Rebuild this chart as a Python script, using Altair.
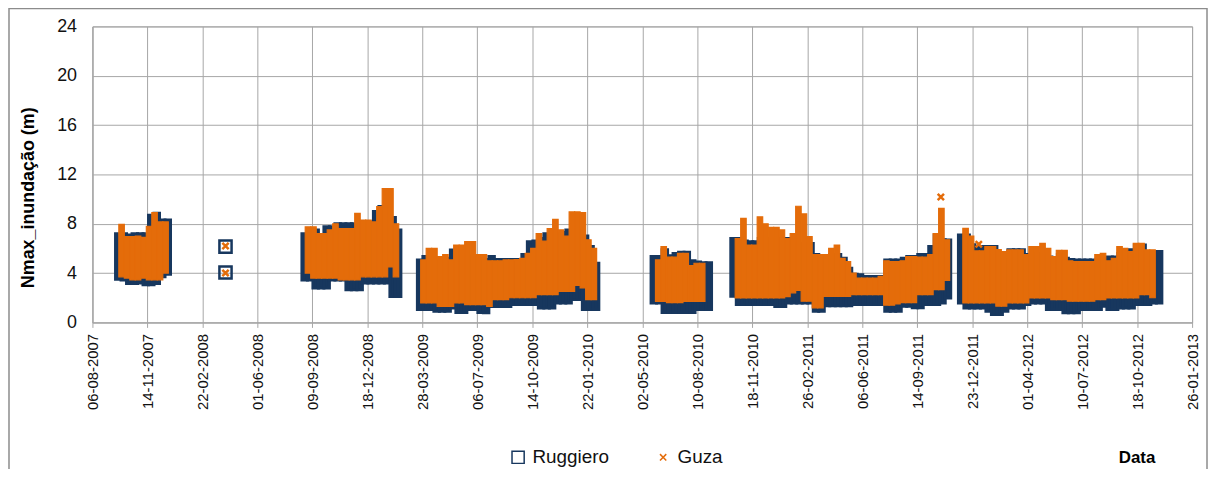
import altair as alt
import pandas as pd

# ---------------- data ----------------
TICK_DATES = ["2007-08-06", "2007-11-14", "2008-02-22", "2008-06-01", "2008-09-09",
              "2008-12-18", "2009-03-28", "2009-07-06", "2009-10-14", "2010-01-22",
              "2010-05-02", "2010-08-10", "2010-11-18", "2011-02-26", "2011-06-06",
              "2011-09-14", "2011-12-23", "2012-04-01", "2012-07-10", "2012-10-18",
              "2013-01-26"]
Y_TICKS = [0, 4, 8, 12, 16, 20, 24]
SERIES = ["Ruggiero", "Guza"]
STEP_DAYS = 10  # each envelope value covers a 10-day window

# Ruggiero envelope (min / max over each 10-day window), per campaign
RUG_S1_START = "2007-09-17"
RUG_S1_HIGH = [7.2, 7.2, 7.1, 7.2, 7.2, 7.2, 8.7, 8.85, 8.3, 8.3]
RUG_S1_LOW = [3.5, 3.45, 3.15, 3.15, 3.2, 3.05, 3.05, 3.15, 3.7, 3.9]

RUG_S3_START = "2008-08-21"
RUG_S3_HIGH = [7.2, 7.5, 7.5, 6.8, 7.75, 7.75, 8.0, 8.0, 8.0, 8.0, 8.15, 8.15, 8.15, 9.0, 9.4, 9.4, 8.5, 7.5]
RUG_S3_LOW = [3.45, 3.45, 2.8, 2.8, 2.8, 3.45, 3.45, 3.45, 2.65, 2.65, 2.65, 3.2, 3.2, 3.2, 3.2, 3.2, 2.1, 2.1]

RUG_S4_START = "2009-03-19"
RUG_S4_HIGH = [5.07, 5.34, 5.34, 5.07, 5.2, 5.2, 5.88, 5.88, 5.5, 5.4, 5.34, 5.2, 5.1, 5.35, 5.1, 5.1, 5.1,
               5.1, 5.1, 5.5, 6.55, 6.6, 6.8, 7.2, 7.2, 7.2, 7.3, 7.5, 7.5, 7.5, 7.0, 6.15, 4.8]
RUG_S4_LOW = [1.05, 1.05, 1.05, 0.91, 0.91, 0.91, 1.18, 0.8, 0.8, 1.05, 1.05, 0.8, 0.78, 1.3, 1.3, 1.3, 1.3,
              1.45, 1.45, 1.45, 1.45, 1.45, 1.18, 1.18, 1.18, 1.58, 1.58, 1.58, 1.85, 1.85, 1.05, 1.05, 1.05]

RUG_S5_START = "2010-05-18"
RUG_S5_HIGH = [5.35, 5.35, 5.9, 5.4, 5.6, 5.7, 5.7, 5.0, 4.9, 4.85, 4.85]
RUG_S5_LOW = [1.58, 1.58, 0.8, 0.8, 0.8, 0.8, 0.8, 0.8, 1.05, 1.05, 1.05]

RUG_S6_START = "2010-10-10"
RUG_S6_HIGH = [6.8, 6.8, 6.6, 6.55, 6.55, 6.8, 6.8, 6.8, 6.8, 6.8, 6.8, 6.4, 6.4, 6.4, 6.4, 5.5, 5.34, 5.34,
               5.5, 5.5, 5.2, 4.4, 3.9, 3.87, 3.73, 3.73, 3.73, 3.73, 5.07, 5.07, 5.07, 5.2, 5.34, 5.34, 5.5,
               5.5, 6.15, 7.1, 6.7, 6.68]
RUG_S6_LOW = [2.12, 1.45, 1.45, 1.45, 1.45, 1.45, 1.45, 1.45, 1.3, 1.3, 1.58, 1.58, 1.58, 1.58, 1.58, 0.9, 0.9,
              1.35, 1.35, 1.35, 1.35, 1.35, 1.45, 1.45, 1.45, 1.45, 1.45, 1.45, 0.91, 0.91, 0.91, 1.32, 1.32,
              1.2, 1.2, 1.45, 1.45, 1.45, 1.58, 1.98]

RUG_S7_START = "2011-11-28"
RUG_S7_HIGH = [7.1, 7.1, 6.3, 6.15, 6.15, 6.15, 6.15, 5.1, 5.1, 5.9, 5.9, 5.9, 5.5, 5.5, 5.6, 5.5, 5.3, 5.2,
               5.5, 5.2, 5.1, 5.07, 5.07, 5.07, 5.07, 5.07, 5.2, 5.3, 5.3, 5.6, 5.75, 5.9, 6.28, 6.28, 5.75,
               5.75, 5.75]
RUG_S7_LOW = [1.58, 1.18, 1.18, 1.18, 1.18, 0.9, 0.64, 0.64, 0.9, 1.18, 1.18, 1.18, 1.45, 1.58, 1.58, 1.58,
              1.05, 1.05, 1.05, 0.78, 0.78, 0.78, 1.05, 1.05, 1.05, 1.05, 1.32, 1.05, 1.05, 1.18, 1.18, 1.18,
              1.45, 1.45, 1.45, 1.58, 1.58]

# Guza envelope
GUZA_S1_START = "2007-09-23"
GUZA_S1_HIGH = [7.95, 6.95, 6.95, 7.0, 6.9, 7.8, 8.9, 8.15, 8.15]
GUZA_S1_LOW = [3.7, 3.6, 3.45, 3.45, 3.6, 3.45, 3.45, 3.45, 4.0]

GUZA_S3_START = "2008-08-27"
GUZA_S3_HIGH = [7.75, 7.75, 7.2, 7.2, 7.5, 8.0, 7.6, 7.6, 7.6, 8.85, 8.3, 8.3, 8.15, 9.4, 10.85, 10.85, 8.0]
GUZA_S3_LOW = [4.0, 3.6, 3.6, 3.6, 3.6, 3.6, 3.45, 3.45, 3.45, 3.45, 3.7, 3.7, 3.7, 3.7, 3.7, 4.5, 3.7]

GUZA_S4_START = "2009-03-25"
GUZA_S4_HIGH = [5.07, 6.0, 6.0, 5.34, 5.5, 5.07, 6.28, 6.28, 6.55, 6.55, 5.5, 5.5, 5.0, 5.0, 5.0, 5.07, 5.07,
                5.1, 5.2, 5.6, 6.0, 7.2, 6.6, 7.6, 8.35, 7.5, 7.0, 8.96, 8.96, 8.9, 6.7, 6.0]
GUZA_S4_LOW = [1.58, 1.58, 1.58, 1.31, 1.31, 1.31, 1.58, 1.58, 1.45, 1.45, 1.45, 1.45, 1.31, 1.85, 1.85, 1.85,
               2.0, 2.0, 2.0, 2.0, 2.0, 2.25, 2.25, 2.25, 2.25, 2.52, 2.52, 2.52, 3.0, 2.8, 1.85, 1.85]

GUZA_S5_START = "2010-05-26"
GUZA_S5_HIGH = [5.07, 6.15, 5.3, 5.3, 5.6, 5.6, 4.6, 4.8, 4.8]
GUZA_S5_LOW = [1.7, 1.7, 1.6, 1.6, 1.6, 1.7, 1.7, 1.7, 1.7]

GUZA_S6_START = "2010-10-18"
GUZA_S6_HIGH = [6.8, 8.43, 6.28, 6.28, 8.56, 8.0, 7.7, 7.7, 7.5, 6.8, 7.2, 9.42, 8.8, 6.95, 5.5, 5.5, 5.5, 6.0,
                6.28, 5.2, 4.94, 4.0, 3.6, 3.6, 3.6, 3.6, 3.73, 5.0, 4.94, 4.94, 5.0, 5.34, 5.34, 5.3, 5.3, 5.5,
                7.2, 9.24, 6.7]
GUZA_S6_LOW = [1.98, 1.98, 1.98, 1.98, 1.98, 1.98, 1.98, 1.98, 1.98, 2.1, 2.4, 2.6, 1.72, 1.72, 1.18, 1.18,
               2.12, 2.12, 2.12, 2.12, 2.12, 2.25, 2.25, 2.25, 2.25, 2.25, 2.25, 1.4, 1.4, 1.5, 1.6, 1.6, 1.6,
               2.25, 2.25, 2.25, 2.66, 2.66, 3.4]

GUZA_S7_START = "2011-12-06"
GUZA_S7_HIGH = [7.62, 7.0, 5.8, 5.8, 6.15, 6.15, 5.9, 5.75, 5.88, 5.88, 5.88, 5.5, 6.15, 6.15, 6.41, 6.0, 5.34,
                5.85, 5.85, 5.0, 4.94, 4.94, 4.94, 4.94, 5.5, 5.6, 5.0, 5.2, 6.15, 6.0, 5.75, 6.41, 6.41, 5.88,
                5.88]
GUZA_S7_LOW = [1.58, 1.58, 1.58, 1.58, 1.58, 1.58, 1.32, 1.32, 1.58, 1.58, 1.58, 1.58, 1.98, 1.98, 1.98, 1.98,
               1.85, 1.85, 1.85, 1.72, 1.72, 1.72, 1.72, 1.72, 1.85, 1.85, 1.98, 1.98, 1.98, 1.98, 1.98, 1.98,
               2.25, 2.25, 2.0]

# isolated points
RUG_POINT_DATES = ["2008-04-04", "2008-04-04"]
RUG_POINT_VALUES = [6.15, 4.05]
GUZA_POINT_DATES = ["2008-04-04", "2008-04-04", "2011-10-27", "2012-01-04"]
GUZA_POINT_VALUES = [6.2, 4.0, 10.17, 6.34]

# ---------------- styling ----------------
NAVY = "#17375E"
ORANGE = "#E46C0A"
GRID = "#A6A6A6"
FONT = "Liberation Sans"
XPATH = "M-1,-1L1,1M-1,1L1,-1"


def ms(s):
    return int(pd.Timestamp(s).value // 10**6)


def band_rows(series, start, highs, lows):
    t0 = pd.Timestamp(start)
    rows = []
    for i, (h, l) in enumerate(zip(highs, lows)):
        s = t0 + pd.Timedelta(days=STEP_DAYS * i)
        e = s + pd.Timedelta(days=STEP_DAYS)
        rows.append({"series": series, "start": s.strftime("%Y-%m-%d"),
                     "end": e.strftime("%Y-%m-%d"), "low": l, "high": h})
    return rows


rug_rows = []
for st, hi, lo in [(RUG_S1_START, RUG_S1_HIGH, RUG_S1_LOW), (RUG_S3_START, RUG_S3_HIGH, RUG_S3_LOW),
                   (RUG_S4_START, RUG_S4_HIGH, RUG_S4_LOW), (RUG_S5_START, RUG_S5_HIGH, RUG_S5_LOW),
                   (RUG_S6_START, RUG_S6_HIGH, RUG_S6_LOW), (RUG_S7_START, RUG_S7_HIGH, RUG_S7_LOW)]:
    rug_rows += band_rows("Ruggiero", st, hi, lo)
guza_rows = []
for st, hi, lo in [(GUZA_S1_START, GUZA_S1_HIGH, GUZA_S1_LOW), (GUZA_S3_START, GUZA_S3_HIGH, GUZA_S3_LOW),
                   (GUZA_S4_START, GUZA_S4_HIGH, GUZA_S4_LOW), (GUZA_S5_START, GUZA_S5_HIGH, GUZA_S5_LOW),
                   (GUZA_S6_START, GUZA_S6_HIGH, GUZA_S6_LOW), (GUZA_S7_START, GUZA_S7_HIGH, GUZA_S7_LOW)]:
    guza_rows += band_rows("Guza", st, hi, lo)

rug_df = pd.DataFrame(rug_rows)
guza_df = pd.DataFrame(guza_rows)
pts_df = pd.DataFrame(
    [{"series": "Ruggiero", "date": d, "value": v} for d, v in zip(RUG_POINT_DATES, RUG_POINT_VALUES)]
    + [{"series": "Guza", "date": d, "value": v} for d, v in zip(GUZA_POINT_DATES, GUZA_POINT_VALUES)]
)

x_scale = alt.Scale(type="utc", domain=[ms(TICK_DATES[0]), ms(TICK_DATES[-1])])
y_scale = alt.Scale(domain=[0, 24], nice=False)

x_axis = alt.Axis(
    values=[ms(d) for d in TICK_DATES], labelExpr="utcFormat(datum.value, '%d-%m-%Y')",
    labelAngle=270, labelAlign="right", labelBaseline="middle", labelFont=FONT,
    labelFontSize=15, labelColor="#111111", labelPadding=6, labelOverlap=False, labelFlush=False,
    tickSize=5, tickColor=GRID, domainColor=GRID, grid=True, gridColor=GRID, gridWidth=1,
    title="Data", titleFont=FONT, titleFontSize=17, titleFontWeight="bold", titleColor="#000000",
    titleX=1051, titleY=141, titleAlign="center", titleBaseline="alphabetic",
)
y_axis = alt.Axis(
    values=Y_TICKS, labelFont=FONT, labelFontSize=18, labelColor="#111111", labelPadding=16,
    ticks=False, domainColor=GRID, grid=True, gridColor=GRID, gridWidth=1,
    title="Nmax_inundação (m)", titleFont=FONT, titleFontSize=18, titleFontWeight="bold",
    titleColor="#000000", titlePadding=19, titleY=172, titleAlign="center",
)

frame = alt.Chart(pd.DataFrame({"k": [0]})).mark_rect(
    fill="transparent", stroke="#8C8C8C", strokeWidth=1.5
).encode(x=alt.value(-84), x2=alt.value(1122), y=alt.value(-18), y2=alt.value(700))

rug_bars = alt.Chart(rug_df).mark_bar(color=NAVY, stroke=NAVY, strokeWidth=3).encode(
    x=alt.X("start:T", scale=x_scale, axis=x_axis),
    x2="end:T",
    y=alt.Y("low:Q", scale=y_scale, axis=y_axis),
    y2="high:Q",
)
guza_bars = alt.Chart(guza_df).mark_bar(color=ORANGE, stroke=ORANGE, strokeWidth=1.2).encode(
    x=alt.X("start:T", scale=x_scale, axis=x_axis),
    x2="end:T",
    y=alt.Y("low:Q", scale=y_scale, axis=y_axis),
    y2="high:Q",
)

leg = alt.Legend(title=None, orient="none", legendX=419, legendY=424, direction="horizontal",
                 labelFont=FONT, labelFontSize=19, labelColor="#111111", symbolStrokeWidth=1.5,
                 columnPadding=44, labelOffset=5, padding=0)
points = alt.Chart(pts_df).mark_point(filled=False, opacity=1, strokeWidth=2.5).encode(
    x=alt.X("date:T", scale=x_scale, axis=x_axis),
    y=alt.Y("value:Q", scale=y_scale, axis=y_axis),
    color=alt.Color("series:N", scale=alt.Scale(domain=SERIES, range=[NAVY, ORANGE]), legend=leg),
    shape=alt.Shape("series:N", scale=alt.Scale(domain=SERIES, range=["square", XPATH]), legend=leg),
    size=alt.Size("series:N", scale=alt.Scale(domain=SERIES, range=[150, 40]), legend=leg),
)

chart = alt.layer(frame, rug_bars, guza_bars, points).properties(
    width=1107, height=298,
    autosize=alt.AutoSizeParams(type="none"),
    padding={"left": 85, "top": 17, "right": 16, "bottom": 146},
    background="white",
).configure_view(stroke=GRID, strokeWidth=1)

chart.save("out.html", embed_options={"renderer": "svg", "actions": False})
